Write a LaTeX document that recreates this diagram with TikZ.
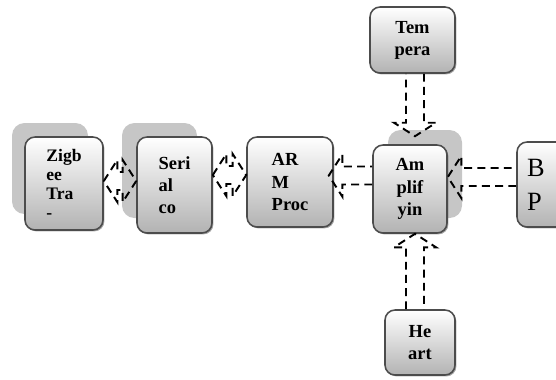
\documentclass[tikz,border=0pt]{standalone}
\usepackage{fontspec}
\setmainfont{Liberation Serif}
\usetikzlibrary{calc,positioning,shadows}
\newcommand{\shw}{0.18cm}
\newcommand{\hdw}{0.42cm}
\newcommand{\hdl}{0.27cm}
\tikzset{
    boxsty/.style={draw=gray!60!black, line width=0.9pt, rounded corners=0.2cm, top color=white, bottom color=gray!60, align=left, inner sep=2pt, font=\bfseries\fontsize{10.5}{12.6}\selectfont, drop shadow={shadow xshift=0.8pt, shadow yshift=-0.8pt, opacity=0.35, fill=black}},
    shdsty/.style={fill=gray!45, rounded corners=0.25cm, inner sep=0pt},
    arrsty/.style={draw=black, line width=1.1pt, dash pattern=on 4.5pt off 3pt, line join=miter},
}
% one-way hollow arrow, #1 tail, #2 tip
\newcommand{\onearr}[2]{%
  \coordinate (ab) at ($(#2)!\hdl!(#1)$);
  \draw[arrsty] ($(#1)!\shw!90:(#2)$) -- ($(ab)!\shw!90:(#2)$) -- ($(ab)!\hdw!90:(#2)$) -- (#2)
    -- ($(ab)!\hdw!-90:(#2)$) -- ($(ab)!\shw!-90:(#2)$) -- ($(#1)!\shw!-90:(#2)$);
}
% two-way hollow arrow
\newcommand{\twoarr}[2]{%
  \coordinate (ab) at ($(#2)!\hdl!(#1)$);
  \coordinate (aa) at ($(#1)!\hdl!(#2)$);
  \draw[arrsty] (#1) -- ($(aa)!\hdw!90:(#2)$) -- ($(aa)!\shw!90:(#2)$) -- ($(ab)!\shw!90:(#2)$)
    -- ($(ab)!\hdw!90:(#2)$) -- (#2) -- ($(ab)!\hdw!-90:(#2)$) -- ($(ab)!\shw!-90:(#2)$)
    -- ($(aa)!\shw!-90:(#2)$) -- ($(aa)!\hdw!-90:(#2)$) -- cycle;
}

\begin{document}
\begin{tikzpicture}
\useasboundingbox (0,0) rectangle (11.12,-7.58);
% shadow blocks
\node[shdsty, minimum width=1.52cm, minimum height=1.82cm] (zigs) at (1.0,-3.37) {};
\node[shdsty, minimum width=1.5cm, minimum height=1.9cm] (sers) at (3.19,-3.41) {};
\node[shdsty, minimum width=1.48cm, minimum height=1.76cm] (amps) at (8.5,-3.48) {};
% blocks
\node[boxsty, minimum width=1.56cm, minimum height=1.86cm, font=\bfseries\fontsize{10}{10.8}\selectfont] (zig) at (1.28,-3.67) {Zigb\\ee\\Tra\\-};
\node[boxsty, minimum width=1.5cm, minimum height=1.92cm] (ser) at (3.49,-3.70) {Seri\\al\\co};
\node[boxsty, minimum width=1.72cm, minimum height=1.8cm] (arm) at (5.80,-3.64) {AR\\M\\Proc};
\node[boxsty, minimum width=1.48cm, minimum height=1.76cm, align=center] (amp) at (8.20,-3.78) {Am\\plif\\yin};
\node[boxsty, minimum width=1.7cm, minimum height=1.32cm, align=center] (tmp) at (8.25,-0.80) {Tem\\pera};
\node[boxsty, minimum width=1.4cm, minimum height=1.3cm, align=center] (hrt) at (8.40,-6.85) {He\\art};
\node[boxsty, minimum width=1.7cm, minimum height=1.7cm, text width=1.3cm, font=\fontsize{15}{19.5}\selectfont] (bp) at (11.19,-3.69) {B\\P};
% connectors
\coordinate (c1) at ($(zig.east)+(0,0.05)$);
\coordinate (c2) at (ser.west |- c1);
\twoarr{c1}{c2}
\coordinate (c3) at ($(ser.east)+(0,0.2)$);
\coordinate (c4) at (arm.west |- c3);
\twoarr{c3}{c4}
\coordinate (c5) at ($(arm.east)+(-0.1,0.13)$);
\coordinate (c6) at (amp.west |- c5);
\onearr{c6}{c5}
\coordinate (c7) at ($(amp.east)+(0,0.24)$);
\coordinate (c8) at (bp.west |- c7);
\onearr{c8}{c7}
\coordinate (c9) at ($(amp.north)+(0.1,0.16)$);
\coordinate (c10) at (tmp.south -| c9);
\onearr{c10}{c9}
\coordinate (c11) at ($(amp.south)+(0.1,0)$);
\coordinate (c12) at (hrt.north -| c11);
\onearr{c12}{c11}
\end{tikzpicture}
\end{document}
